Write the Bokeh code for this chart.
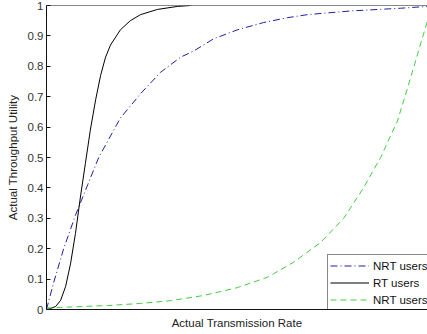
from bokeh.plotting import figure
from bokeh.models import Range1d, FixedTicker, Legend, LegendItem, Span, CustomJSTickFormatter
from bokeh.embed import file_html
from bokeh.resources import INLINE

# ---- data ----
rate_nrt_a = [0, 1.8, 4.5, 7.6, 10.8, 13.7, 19.4, 24.7, 29.9, 35.2, 38.6, 43.8,
              50.1, 57.0, 63.3, 68.5, 79.8, 92.9, 100]
util_nrt_a = [0, 0.085, 0.20, 0.31, 0.41, 0.50, 0.63, 0.71, 0.78, 0.83, 0.85, 0.89,
              0.92, 0.944, 0.96, 0.97, 0.982, 0.991, 0.997]

rate_rt = [0, 1.0, 2.4, 3.7, 5.0, 6.3, 7.6, 8.9, 10.2, 11.5, 12.9, 14.2, 15.5,
           16.8, 19.4, 22.0, 24.7, 29.1, 34.4, 37.8]
util_rt = [0, 0.003, 0.01, 0.03, 0.075, 0.15, 0.25, 0.37, 0.48, 0.59, 0.69, 0.77,
           0.83, 0.87, 0.92, 0.95, 0.97, 0.987, 0.997, 1.0]

rate_nrt_b = [0, 3.7, 16.0, 24.7, 32.6, 41.2, 50.1, 58.0, 64.8, 71.9, 78.0, 83.2,
              87.7, 92.1, 94.8, 97.4, 100]
util_nrt_b = [0.005, 0.007, 0.013, 0.02, 0.029, 0.046, 0.072, 0.106, 0.155, 0.22,
              0.30, 0.40, 0.50, 0.62, 0.73, 0.84, 0.95]

y_ticks = [0, 0.1, 0.2, 0.3, 0.4, 0.5, 0.6, 0.7, 0.8, 0.9, 1]
y_tick_labels = ["0", "0.1", "0.2", "0.3", "0.4", "0.5", "0.6", "0.7", "0.8", "0.9", "1"]

legend_labels = ["NRT users", "RT users", "NRT users"]

FONT = "Liberation Sans"
FS = "11.5px"

p = figure(width=427, height=334, x_range=Range1d(0, 100), y_range=Range1d(0, 1),
           output_backend="svg", toolbar_location=None,
           min_border_left=46, min_border_right=0, min_border_top=5, min_border_bottom=25)
p.outline_line_color = None
p.grid.visible = False
p.background_fill_color = "white"
p.border_fill_color = "white"

# x axis: no ticks
p.xaxis.ticker = FixedTicker(ticks=[])
p.xaxis.major_tick_line_color = None
p.xaxis.minor_tick_line_color = None
p.xaxis.axis_line_color = "#111111"
p.xaxis.axis_label = "Actual Transmission Rate"
p.xaxis.axis_label_text_font = FONT
p.xaxis.axis_label_text_font_size = FS
p.xaxis.axis_label_text_font_style = "normal"
p.xaxis.axis_label_text_color = "#222222"
p.xaxis.axis_label_standoff = 7
p.xaxis.major_label_standoff = 0

# y axis
p.yaxis.ticker = FixedTicker(ticks=y_ticks)
p.yaxis.formatter = CustomJSTickFormatter(
    args=dict(tvals=y_ticks, tlabels=y_tick_labels),
    code="const i = tvals.findIndex(t => Math.abs(t - tick) < 1e-9); return i >= 0 ? tlabels[i] : '';")
p.yaxis.major_tick_in = 4
p.yaxis.major_tick_out = 0
p.yaxis.minor_tick_line_color = None
p.yaxis.major_tick_line_color = "#111111"
p.yaxis.axis_line_color = "#111111"
p.yaxis.major_label_text_font = FONT
p.yaxis.major_label_text_font_size = FS
p.yaxis.major_label_text_color = "#333333"
p.yaxis.major_label_standoff = 3
p.yaxis.axis_label = "Actual Throughput Utility"
p.yaxis.axis_label_text_font = FONT
p.yaxis.axis_label_text_font_size = FS
p.yaxis.axis_label_text_font_style = "normal"
p.yaxis.axis_label_text_color = "#222222"
p.yaxis.axis_label_standoff = 6

# top border line
p.add_layout(Span(location=1, dimension="width", line_color="#111111", line_width=1))

r1 = p.line(rate_nrt_a, util_nrt_a, line_color="#2020a0", line_width=1, line_dash="7 3 1 3")
r2 = p.line(rate_rt, util_rt, line_color="black", line_width=1)
r3 = p.line(rate_nrt_b, util_nrt_b, line_color="#44cc44", line_width=1, line_dash="6 4")

legend = Legend(items=[LegendItem(label=legend_labels[0], renderers=[r1]),
                       LegendItem(label=legend_labels[1], renderers=[r2]),
                       LegendItem(label=legend_labels[2], renderers=[r3])],
                location=(281, -2))
legend.border_line_color = "#111111"
legend.border_line_width = 1
legend.background_fill_color = "white"
legend.background_fill_alpha = 1
legend.padding = 2
legend.margin = 0
legend.spacing = 0
legend.glyph_width = 39
legend.glyph_height = 17
legend.label_height = 17
legend.label_standoff = 4
legend.label_text_font = FONT
legend.label_text_font_size = FS
legend.label_text_color = "#111111"
p.add_layout(legend)

open("out.html", "w").write(file_html(p, INLINE))
